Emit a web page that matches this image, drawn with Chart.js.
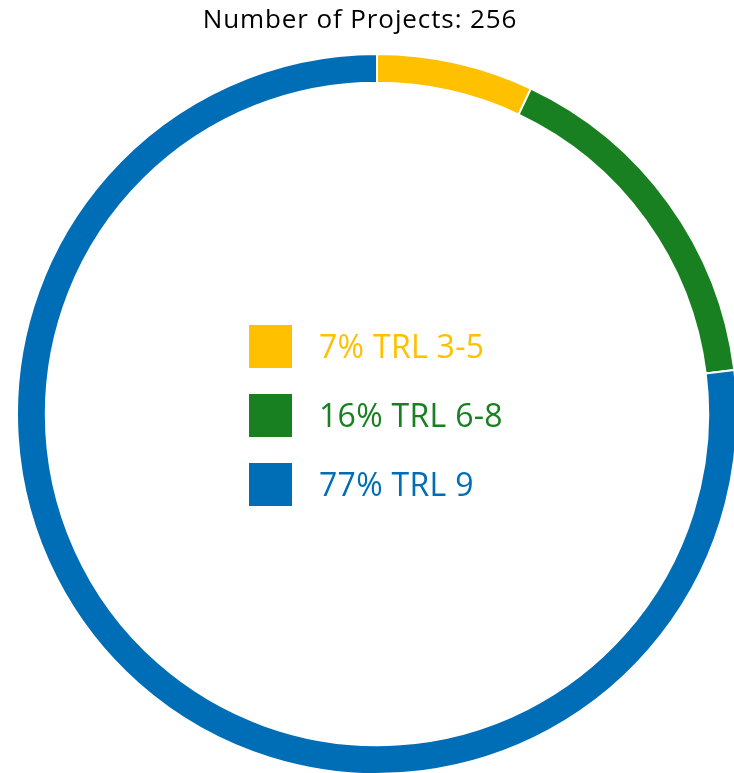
<!DOCTYPE html>
<html>
<head>
<meta charset="utf-8">
<script src="https://cdn.jsdelivr.net/npm/chart.js@4/dist/chart.umd.min.js"></script>
<style>
  html, body { margin: 0; padding: 0; background: #fff; overflow: hidden; }
  #wrap { width: 740px; height: 775px; }
</style>
</head>
<body>
<div id="wrap"><canvas id="trlChart" width="740" height="775"></canvas></div>
<script>
// Project counts per technology readiness level
const categories = ["TRL 3-5", "TRL 6-8", "TRL 9"];
const projectCounts = [18, 41, 197];
const sliceColors = ["#FFC000", "#188020", "#006EB6"];

const total = projectCounts.reduce((a, b) => a + b, 0);
const pctLabels = projectCounts.map((v, i) => Math.round(v / total * 100) + "% " + categories[i]);

// Title + centred legend drawn straight onto the canvas
const overlay = {
    id: "overlay",
    afterDraw(chart) {
        const ctx = chart.ctx;
        ctx.save();
        ctx.fillStyle = "#000";
        ctx.font = "26px 'Open Sans'";
        ctx.letterSpacing = "0.9px";
        ctx.textAlign = "center";
        ctx.textBaseline = "alphabetic";
        ctx.fillText("Number of Projects: " + total, 360, 28);

        ctx.textAlign = "left";
        ctx.font = "32px 'Open Sans'";
        ctx.letterSpacing = "0.3px";
        pctLabels.forEach((txt, i) => {
            const top = 325 + i * 69;
            ctx.fillStyle = sliceColors[i];
            ctx.fillRect(249, top, 43, 43);
            ctx.fillText(txt, 319, top + 33);
        });
        ctx.restore();
    }
};

new Chart(document.getElementById("trlChart"), {
    type: "doughnut",
    data: {
        labels: categories,
        datasets: [{
            data: projectCounts,
            backgroundColor: sliceColors,
            borderColor: "#fff",
            borderWidth: 2,
        }],
    },
    options: {
        responsive: false,
        animation: false,
        cutout: "92%",
        layout: { padding: { left: 16, top: 53, right: 2, bottom: 0 } },
        plugins: {
            legend: { display: false },
            tooltip: { enabled: false },
        },
    },
    plugins: [overlay],
});
</script>
</body>
</html>
